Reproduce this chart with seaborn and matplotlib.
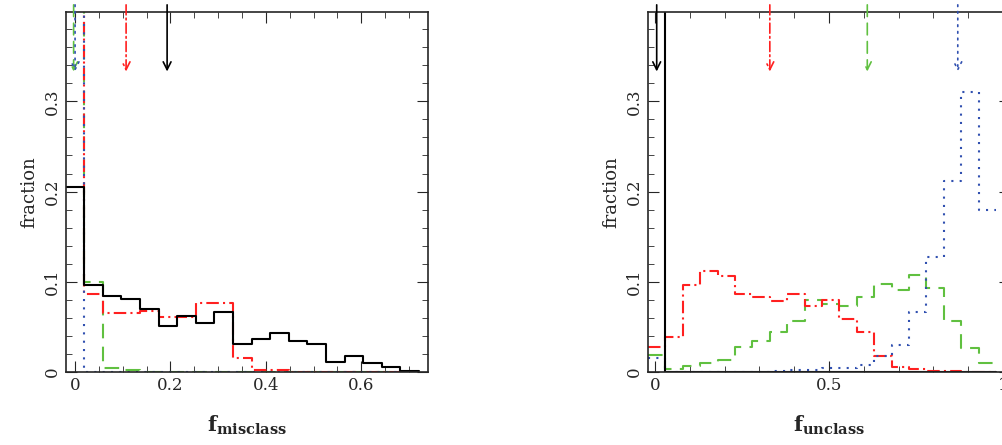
import numpy as np
import pandas as pd
import matplotlib
matplotlib.use('Agg')
import matplotlib.pyplot as plt
import seaborn as sns

sns.set_style('ticks')
plt.rcParams['font.family'] = ['DejaVu Serif']
plt.rcParams['mathtext.fontset'] = 'dejavuserif'

# left panel: f_misclass histograms (bin 0 spikes run off the top)
mis_edges = -0.0197 + 0.039 * np.arange(20)
mis_black = [0.205, 0.096, 0.084, 0.081, 0.070, 0.051, 0.062, 0.054, 0.066, 0.031,
             0.037, 0.043, 0.034, 0.031, 0.011, 0.018, 0.010, 0.005, 0.001]
mis_red = [1.0, 0.086, 0.065, 0.065, 0.068, 0.061, 0.061, 0.077, 0.077, 0.015,
           0.002, 0.002, 0, 0, 0, 0, 0, 0, 0]
mis_green = [1.0, 0.100, 0.004, 0.002, 0, 0, 0, 0, 0, 0, 0, 0, 0, 0, 0, 0, 0, 0, 0]
mis_blue = [1.0] + [0] * 18
mis_arrows = {'black': 0.193, 'red': 0.107, 'green': -0.003, 'blue': 0.0}

# right panel: f_unclass histograms
un_edges = -0.02 + 0.05 * np.arange(21)
un_black = [1.0] + [0] * 19
un_red = [0.028, 0.039, 0.096, 0.112, 0.106, 0.087, 0.083, 0.079, 0.086, 0.073,
          0.080, 0.059, 0.044, 0.018, 0.006, 0.003, 0.001, 0.001, 0, 0]
un_green = [0.019, 0.003, 0.007, 0.010, 0.013, 0.028, 0.034, 0.044, 0.056, 0.080,
            0.075, 0.073, 0.083, 0.097, 0.091, 0.107, 0.093, 0.056, 0.027, 0.010]
un_blue = [0.015, 0.0, 0.0, 0.0, 0.0, 0.0, 0.0, 0.001, 0.002, 0.002,
           0.004, 0.004, 0.008, 0.018, 0.030, 0.066, 0.128, 0.212, 0.310, 0.180]
un_arrows = {'black': 0.005, 'red': 0.33, 'green': 0.61, 'blue': 0.87}

colors = {'black': 'black', 'red': '#ff2020', 'green': '#60c040', 'blue': '#3050b0'}
styles = {'black': '-', 'red': (0, (6, 2, 1, 2)), 'green': (0, (7, 4)), 'blue': (0, (1, 3))}

fig = plt.figure(figsize=(10.03, 4.45), dpi=100)
ax1 = fig.add_axes([66 / 1003, 73 / 445, 362 / 1003, 360 / 445])
ax2 = fig.add_axes([648 / 1003, 73 / 445, 362 / 1003, 360 / 445])


def draw(ax, edges, series, arrows):
    centers = (edges[:-1] + edges[1:]) / 2
    for name in ['green', 'red', 'blue', 'black']:
        df = pd.DataFrame({'x': centers, 'w': series[name]})
        sns.histplot(data=df, x='x', weights='w', bins=list(edges), element='step', fill=False,
                     color=colors[name], linestyle=styles[name], linewidth=1.5, ax=ax)
    for name, xv in arrows.items():
        ax.annotate('', xy=(xv, 0.33), xytext=(xv, 0.41),
                    arrowprops=dict(arrowstyle='->', color=colors[name], lw=1.2,
                                    linestyle=styles[name], mutation_scale=14))
    ax.set_ylim(0, 0.399)
    ax.set_ylabel('fraction', fontsize=13)
    ax.set_yticks([0, 0.1, 0.2, 0.3])
    ax.set_yticklabels(['0', '0.1', '0.2', '0.3'], rotation=90, va='center')
    ax.yaxis.set_minor_locator(matplotlib.ticker.MultipleLocator(0.02))
    ax.tick_params(which='both', direction='in', top=True, right=True, labelsize=12)
    ax.tick_params(which='major', length=8)
    ax.tick_params(which='minor', length=4)
    for s in ax.spines.values():
        s.set_linewidth(1.2)


draw(ax1, mis_edges, {'black': mis_black, 'red': mis_red, 'green': mis_green, 'blue': mis_blue}, mis_arrows)
ax1.set_xlim(-0.019, 0.74)
ax1.set_xticks([0, 0.2, 0.4, 0.6])
ax1.set_xticklabels(['0', '0.2', '0.4', '0.6'])
ax1.xaxis.set_minor_locator(matplotlib.ticker.MultipleLocator(0.05))
ax1.set_xlabel(r'$\mathbf{f_{misclass}}$', fontsize=15, labelpad=14)

draw(ax2, un_edges, {'black': un_black, 'red': un_red, 'green': un_green, 'blue': un_blue}, un_arrows)
ax2.set_xlim(-0.02, 1.02)
ax2.set_xticks([0, 0.5, 1])
ax2.set_xticklabels(['0', '0.5', '1'])
ax2.xaxis.set_minor_locator(matplotlib.ticker.MultipleLocator(0.1))
ax2.set_xlabel(r'$\mathbf{f_{unclass}}$', fontsize=15, labelpad=14)

fig.savefig('out.png', dpi=100)
